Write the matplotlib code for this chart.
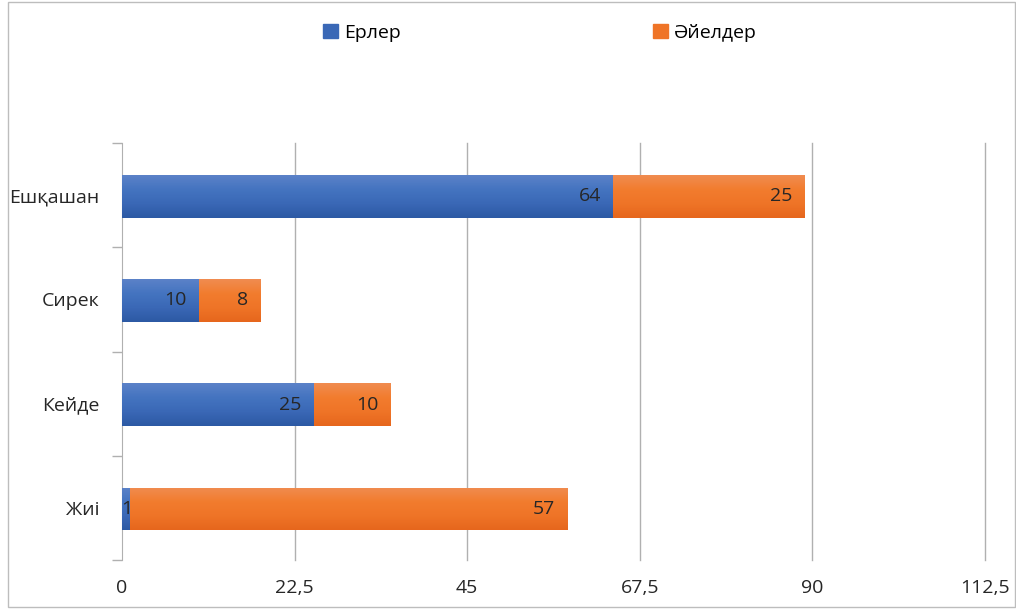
import matplotlib
matplotlib.use("Agg")
import matplotlib.pyplot as plt
import numpy as np
from matplotlib.colors import LinearSegmentedColormap
from matplotlib.patches import Rectangle
from matplotlib.ticker import FixedLocator
from matplotlib.transforms import offset_copy

categories = ["Жиі", "Кейде", "Сирек", "Ешқашан"]
men = [1, 25, 10, 64]
women = [57, 10, 8, 25]
series_names = ["Ерлер", "Әйелдер"]
x_ticks = [0, 22.5, 45, 67.5, 90, 112.5]
x_tick_labels = ["0", "22,5", "45", "67,5", "90", "112,5"]

plt.rcParams["font.family"] = ["Open Sans", "DejaVu Sans"]
FS = 14
TXT = "#262626"

fig = plt.figure(figsize=(10.16, 6.09), dpi=100)
ax = fig.add_axes([122 / 1016, 1 - 560 / 609, (985 - 122) / 1016, (560 - 143) / 609])

blue_stops = ["#2c59a4", "#3a68b6", "#4474c0", "#5b82c8"]
orange_stops = ["#e6661d", "#ef7427", "#f27c2e", "#f08c50"]

y = np.arange(len(categories))
h = 0.41
b1 = ax.barh(y - 0.01, men, height=h, color=blue_stops[1], zorder=3)
b2 = ax.barh(y - 0.01, women, left=men, height=h, color=orange_stops[1], zorder=3)


def shade(bars, stops):
    cmap = LinearSegmentedColormap.from_list("g", stops)
    grad = np.linspace(0, 1, 64).reshape(-1, 1)
    for p in bars:
        x0, y0 = p.get_x(), p.get_y()
        w, hh = p.get_width(), p.get_height()
        im = ax.imshow(grad, cmap=cmap, aspect="auto", origin="lower",
                       extent=[x0, x0 + w, y0, y0 + hh], zorder=3.5)
        im.set_clip_path(p)


shade(b1, blue_stops)
shade(b2, orange_stops)

ax.set_xlim(0, 112.5)
ax.set_ylim(-0.5, len(categories) - 0.5)

ax.xaxis.set_major_locator(FixedLocator(x_ticks))
ax.set_xticklabels(x_tick_labels, fontsize=FS, color=TXT)
ax.tick_params(axis="x", length=0, pad=14)
for xv in x_ticks[1:]:
    ax.axvline(xv, color="#b0b0b0", linewidth=1, zorder=0, clip_on=False)

ax.set_yticks(y)
ax.set_yticklabels(categories, fontsize=FS, color=TXT)
ax.yaxis.set_minor_locator(FixedLocator(np.arange(-0.5, len(categories), 1)))
ax.tick_params(axis="y", which="major", length=0, pad=16)
ax.tick_params(axis="y", which="minor", length=7, color="#b0b0b0", width=1)

for s in ["top", "right", "bottom"]:
    ax.spines[s].set_visible(False)
ax.spines["left"].set_color("#b0b0b0")

tr = offset_copy(ax.transData, fig=fig, x=-12, y=0, units="dots")
for i in range(len(categories)):
    dx = -12 if men[i] > 3 else 3
    ax.text(men[i], y[i] - 0.01, str(men[i]), ha="right", va="center", fontsize=FS,
            color=TXT, transform=offset_copy(ax.transData, fig=fig, x=dx, y=0, units="dots"),
            zorder=5)
    ax.text(men[i] + women[i], y[i] - 0.01, str(women[i]), ha="right", va="center",
            fontsize=FS, color=TXT, transform=tr, zorder=5)

handles = [Rectangle((0, 0), 1, 1, color=blue_stops[1]), Rectangle((0, 0), 1, 1, color=orange_stops[1])]
fig.legend(handles, series_names, loc="center", bbox_to_anchor=(540 / 1016, 1 - 33 / 609),
           ncol=2, frameon=False, fontsize=FS, handlelength=0.75, handleheight=0.75,
           handletextpad=0.3, columnspacing=13)

# outer border
fig.add_artist(Rectangle((8 / 1016, 2 / 609), 1 - 9 / 1016, 1 - 4 / 609,
                         transform=fig.transFigure, fill=False,
                         edgecolor="#bdbdbd", linewidth=1))

fig.savefig("out.png", dpi=100)
